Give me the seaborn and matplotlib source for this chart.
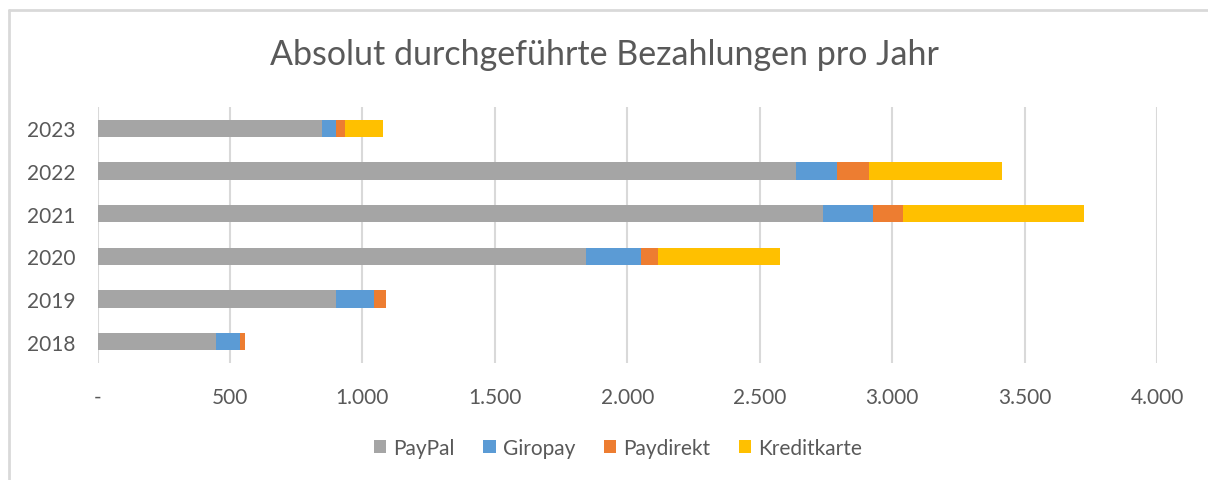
import matplotlib.pyplot as plt
import seaborn as sns
import pandas as pd
from matplotlib.lines import Line2D
from matplotlib.ticker import FuncFormatter

# Werte
jahre = ["2023", "2022", "2021", "2020", "2019", "2018"]
paypal = [849, 2638, 2740, 1843, 902, 447]
giropay = [53, 155, 189, 208, 141, 92]
paydirekt = [34, 121, 113, 64, 48, 19]
kreditkarte = [141, 501, 681, 460, 0, 0]

serien = ["PayPal", "Giropay", "Paydirekt", "Kreditkarte"]
farben = ["#A5A5A5", "#5B9BD5", "#ED7D31", "#FFC000"]

df = pd.DataFrame({"Jahr": jahre, "PayPal": paypal, "Giropay": giropay,
                   "Paydirekt": paydirekt, "Kreditkarte": kreditkarte})
kum = df[serien].cumsum(axis=1)
kum["Jahr"] = df["Jahr"]

sns.set_style("white")
plt.rcParams['font.family'] = ['Lato', 'DejaVu Sans']
textfarbe = "#595959"

fig = plt.figure(figsize=(12.08, 4.81), dpi=100)
ax = fig.add_axes([97.5 / 1208, 1 - 364 / 481, (1157 - 97.5) / 1208, 256 / 481])

# gestapelt: von der Summe rückwärts überlagern
for name, farbe in reversed(list(zip(serien, farben))):
    sns.barplot(data=kum, y="Jahr", x=name, orient="h", color=farbe,
                width=0.4, ax=ax, label=name, linewidth=0, saturation=1)

ax.set_xlim(0, 4000)
ax.set_xticks(range(0, 4001, 500))
ax.xaxis.set_major_formatter(FuncFormatter(
    lambda v, p: "-" if v == 0 else f"{int(v):,}".replace(",", ".")))
ax.grid(axis="x", color="#D9D9D9", linewidth=1.5)
ax.set_axisbelow(True)
for s in ax.spines.values():
    s.set_visible(False)
ax.set_xlabel("")
ax.set_ylabel("")
ax.tick_params(axis="both", length=0, labelsize=15, labelcolor=textfarbe)
ax.tick_params(axis="x", pad=17)
ax.tick_params(axis="y", pad=16)

handles, labels = ax.get_legend_handles_labels()
ax.get_legend().remove()

fig.suptitle("Absolut durchgeführte Bezahlungen pro Jahr", y=1 - 55 / 481,
             va="center", fontsize=24.5, color=textfarbe)

order = [labels.index(n) for n in serien]
fig.legend([handles[i] for i in order], serien, loc="center",
           bbox_to_anchor=(618 / 1208, 1 - 449 / 481), ncol=4, frameon=False,
           fontsize=15, labelcolor=textfarbe, handlelength=0.6,
           handleheight=0.6, handletextpad=0.35, columnspacing=1.35)

# Rahmen des Diagrammbereichs (oben und links sichtbar)
fig.add_artist(Line2D([9 / 1208, 9 / 1208], [0, 1 - 11 / 481],
                      transform=fig.transFigure, color="#D9D9D9", linewidth=2))
fig.add_artist(Line2D([9 / 1208, 1], [1 - 11 / 481, 1 - 11 / 481],
                      transform=fig.transFigure, color="#D9D9D9", linewidth=2))

fig.savefig("out.png", dpi=100)
